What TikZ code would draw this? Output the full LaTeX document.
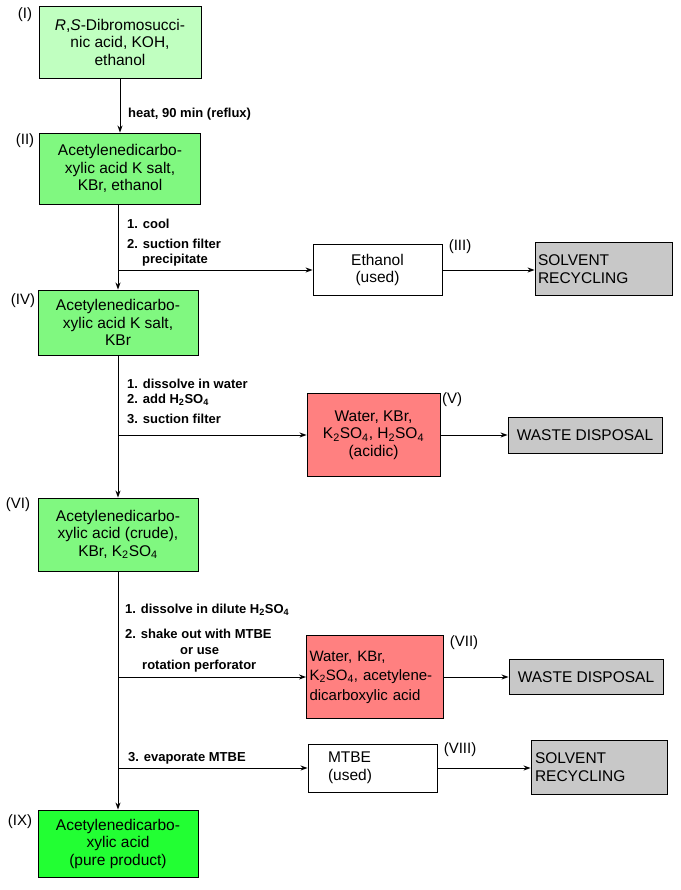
\documentclass[tikz,border=0pt]{standalone}
\usepackage{fontspec}
\setmainfont{Liberation Sans}
\usetikzlibrary{arrows.meta}
\definecolor{gA}{RGB}{192,255,192}
\definecolor{gB}{RGB}{128,248,128}
\definecolor{gC}{RGB}{34,255,51}
\definecolor{rA}{RGB}{255,128,128}
\definecolor{grA}{RGB}{200,200,200}
\tikzset{
  box/.style={draw=black, line width=0.9pt, inner sep=0pt, align=center,
    font=\fontsize{15.5}{17.5}\selectfont},
  sbox/.style={box, fill=gB},
  lbl/.style={font=\fontsize{15}{17}\selectfont, inner sep=0pt},
  op/.style={font=\bfseries\fontsize{13}{14}\selectfont, inner sep=0pt, anchor=base west},
  arr/.style={line width=0.9pt, -{Stealth[length=7pt,width=5pt]}},
  ln/.style={line width=0.9pt}
}
\newcommand{\sub}[1]{\textsubscript{#1}}
\begin{document}
\begin{tikzpicture}[x=1pt,y=-1pt]
\useasboundingbox (0,0) rectangle (680,890);
% main boxes
\node[box, fill=gA, minimum width=162pt, minimum height=72pt] (I) at (120,42)
  {\textit{R},\textit{S}-Dibromosucci-\\nic acid, KOH,\\ethanol};
\node[sbox, minimum width=161pt, minimum height=71pt] (II) at (120,168.5)
  {Acetylenedicarbo-\\xylic acid K salt,\\KBr, ethanol};
\node[sbox, minimum width=160pt, minimum height=65pt] (IV) at (118,322.5)
  {Acetylenedicarbo-\\xylic acid K salt,\\KBr};
\node[sbox, minimum width=160pt, minimum height=73pt] (VI) at (118,534.5)
  {Acetylenedicarbo-\\xylic acid (crude),\\KBr, K\sub{2}SO\sub{4}};
\node[box, fill=gC, minimum width=160pt, minimum height=67pt] (IX) at (118,843.5)
  {Acetylenedicarbo-\\xylic acid\\(pure product)};
% side boxes
\node[box, fill=white, minimum width=129pt, minimum height=51pt] (III) at (377.5,270)
  {Ethanol\\(used)};
\node[box, fill=grA, minimum height=53pt, text width=131pt, inner xsep=3pt, align=left] (SR1) at (603.5,269)
  {SOLVENT\\RECYCLING};
\node[box, fill=rA, minimum width=133pt, minimum height=83pt] (V) at (373.5,435)
  {Water, KBr,\\K\sub{2}SO\sub{4}, H\sub{2}SO\sub{4}\\(acidic)};
\node[box, fill=grA, minimum width=154pt, minimum height=36pt] (WD1) at (585,435)
  {WASTE DISPOSAL};
\node[box, fill=rA, minimum height=83pt, text width=131pt, inner xsep=3pt, align=left,
  font=\fontsize{15}{19.5}\selectfont] (VII) at (375,677)
  {Water, KBr,\\K\sub{2}SO\sub{4}, acetylene-\\dicarboxylic acid};
\node[box, fill=grA, minimum width=154pt, minimum height=35pt] (WD2) at (586,677)
  {WASTE DISPOSAL};
\node[box, fill=white, minimum height=48pt, text width=89pt, inner xsep=20pt, align=left] (VIII) at (372.5,768)
  {MTBE\\(used)};
\node[box, fill=grA, minimum height=54pt, text width=128pt, inner xsep=4pt, align=left] (SR2) at (599,767)
  {SOLVENT\\RECYCLING};
% roman labels
\node[lbl] (lI) at (25,15) {(I)};
\node[lbl] (lII) at (25,141) {(II)};
\node[lbl] (lIII) at (460,247) {(III)};
\node[lbl] (lIV) at (23,301) {(IV)};
\node[lbl] (lV) at (452,400) {(V)};
\node[lbl] (lVI) at (18,505) {(VI)};
\node[lbl] (lVII) at (464,643) {(VII)};
\node[lbl] (lVIII) at (460,750) {(VIII)};
\node[lbl] (lIX) at (20,822) {(IX)};
% main flow
\draw[arr] (I.south) -- (II.north);
\draw[arr] (II.south -| IV.north) -- (IV.north);
\draw[arr] (IV.south) -- (VI.north);
\draw[arr] (VI.south) -- (IX.north);
% branch points
\coordinate (b1) at (118,270);
\coordinate (b2) at (118,435);
\coordinate (b3) at (118,677);
\coordinate (b4) at (118,768);
\draw[arr] (b1) -- (III.west);
\draw[arr] (b2) -- (V.west);
\draw[arr] (b3) -- (VII.west);
\draw[arr] (b4) -- (VIII.west);
\draw[arr] (III.east) -- (III.east -| SR1.west);
\draw[arr] (V.east) -- (V.east -| WD1.west);
\draw[arr] (VII.east) -- (VII.east -| WD2.west);
\draw[arr] (VIII.east) -- (VIII.east -| SR2.west);
% operation labels
\node[op] (o1) at (128,118) {heat, 90 min (reflux)};
\node[op] (o2) at (127,229) {1. cool};
\node[op] (o3) at (127,249) {2. suction filter};
\node[op] (o4) at (142,264) {precipitate};
\node[op] (o5) at (127,388) {1. dissolve in water};
\node[op] (o6) at (127,403) {2. add H\sub{2}SO\sub{4}};
\node[op] (o7) at (127,423) {3. suction filter};
\node[op] (o8) at (125,613) {1. dissolve in dilute H\sub{2}SO\sub{4}};
\node[op] (o9) at (125,638) {2. shake out with MTBE};
\node[op] (o10) at (180,654) {or use};
\node[op] (o11) at (142,669) {rotation perforator};
\node[op] (o12) at (128,761) {3. evaporate MTBE};
\end{tikzpicture}
\end{document}
